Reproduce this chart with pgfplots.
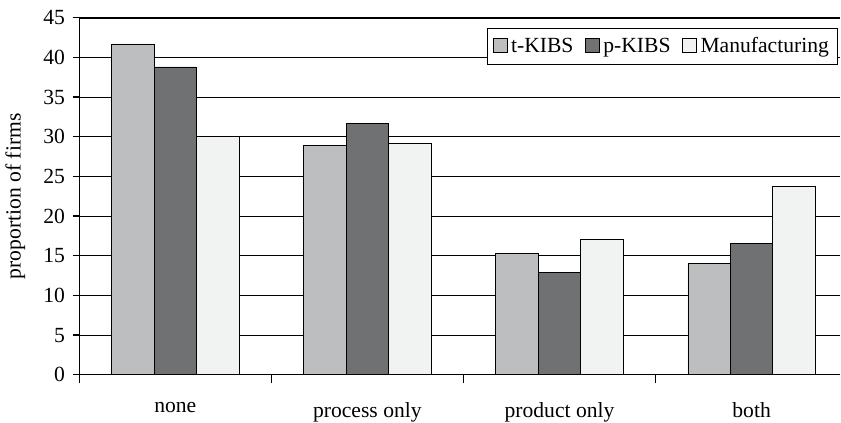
\documentclass[border=0pt]{standalone}
\usepackage{pgfplots}
\pgfplotsset{compat=1.18}
\usepackage{fontspec}
\setmainfont{Liberation Serif}
\definecolor{tkibs}{HTML}{BDBEC0}
\definecolor{pkibs}{HTML}{707173}
\definecolor{manu}{HTML}{F1F2F2}
\begin{document}
\begin{tikzpicture}
\begin{axis}[
  scale only axis,
  width=457.8pt, height=214.8pt,
  font=\fontsize{13}{15}\selectfont,
  /pgf/number format/assume math mode=true,
  xmin=-0.5, xmax=3.46, ymin=0, ymax=45,
  ybar=0pt, bar width=0.221,
  axis lines*=left,
  axis line style={line width=0.8pt},
  xtick={0,1,2,3},
  xticklabels={none, process only, product only, both},
  minor xtick={-0.5,0.5,1.5,2.5},
  major x tick style={draw=none},
  minor x tick style={black, line width=0.8pt},
  minor tick length=5pt,
  major tick length=4pt,
  tick align=outside,
  x tick label style={inner sep=0pt, yshift=-12.5pt},
  ytick distance=5,
  y tick style={black, line width=0.8pt},
  yticklabel style={xshift=-1pt},
  ymajorgrids,
  grid style={black, line width=0.5pt},
  extra y ticks={45},
  extra y tick labels={},
  extra y tick style={grid style={black, line width=1.2pt}},
  ylabel={proportion of firms},
  ylabel style={yshift=-4pt},
  legend columns=-1,
  legend style={at={(rel axis cs:0.997,0.972)}, anchor=north east,
    draw=black, line width=0.6pt, inner xsep=3pt, inner ysep=3.5pt,
    /tikz/every even column/.append style={column sep=5pt}},
  legend image code/.code={\draw[#1, draw=black, line width=0.5pt] (0pt,-3.8pt) rectangle (8.5pt,4.7pt);},
]
\addplot[fill=tkibs, draw=black, line width=0.5pt] coordinates {(0,41.7) (1,28.9) (2,15.3) (3,14.0)};
\addplot[fill=pkibs, draw=black, line width=0.5pt] coordinates {(0,38.8) (1,31.7) (2,12.9) (3,16.5)};
\addplot[fill=manu, draw=black, line width=0.5pt] coordinates {(0,30.1) (1,29.1) (2,17.1) (3,23.7)};
\legend{t-KIBS, p-KIBS, Manufacturing}
\end{axis}
% a little white space above the top tick label
\path ([yshift=3pt]current bounding box.north);
\end{tikzpicture}
\end{document}
